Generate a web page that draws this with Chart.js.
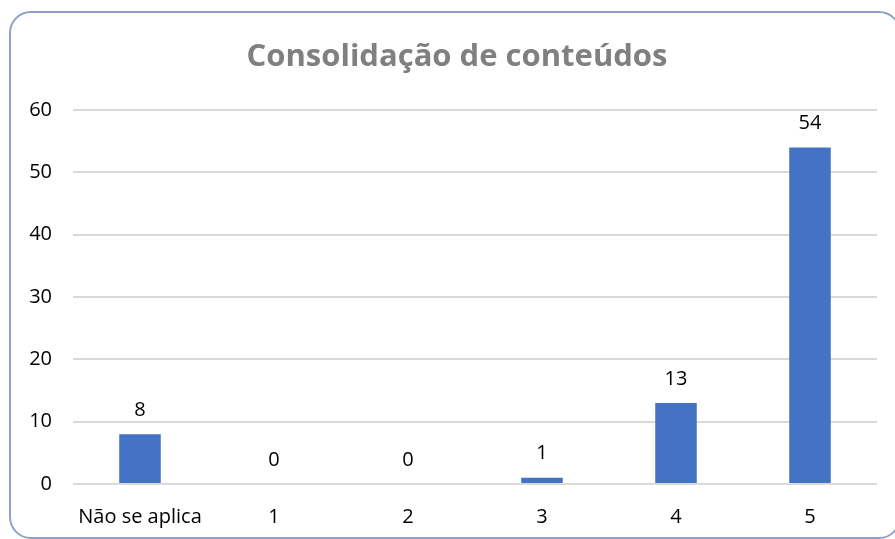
<!DOCTYPE html>
<html>
<head>
<meta charset="utf-8">
<script src="https://cdn.jsdelivr.net/npm/chart.js@4"></script>
<style>
  html, body { margin: 0; padding: 0; background: #fff; overflow: hidden; }
  #wrap { position: relative; width: 895px; height: 539px; }
  #frame {
    position: absolute; left: 9px; top: 11px; width: 892px; height: 528px;
    border: 2px solid #8EA3C2; border-radius: 22px; box-sizing: border-box;
  }
  #chart { position: absolute; left: 0; top: 0; }
</style>
</head>
<body>
<div id="wrap">
  <div id="frame"></div>
  <canvas id="chart" width="895" height="539"></canvas>
</div>
<script>
// data
const chartTitle = 'Consolidação de conteúdos';
const categories = ['Não se aplica', '1', '2', '3', '4', '5'];
const responses = [8, 0, 0, 1, 13, 54];
const yTicks = [0, 10, 20, 30, 40, 50, 60];

const FONT = '"Open Sans", "Liberation Sans", sans-serif';

// title centred on the frame rather than on the canvas
const frameTitle = {
    id: 'frameTitle',
    afterDraw(chart) {
        const ctx = chart.ctx;
        ctx.save();
        ctx.font = 'bold 31px ' + FONT;
        ctx.fillStyle = '#808080';
        ctx.textAlign = 'center';
        ctx.textBaseline = 'middle';
        ctx.fillText(chartTitle, 457, 57);
        ctx.restore();
    }
};

// draws the value above each bar (no datalabels plugin available offline)
const valueLabels = {
    id: 'valueLabels',
    afterDatasetsDraw(chart) {
        const ctx = chart.ctx;
        const meta = chart.getDatasetMeta(0);
        ctx.save();
        ctx.font = '20px ' + FONT;
        ctx.fillStyle = '#000';
        ctx.textAlign = 'center';
        ctx.textBaseline = 'middle';
        meta.data.forEach((bar, i) => {
            ctx.fillText(String(responses[i]), bar.x, bar.y - 24);
        });
        ctx.restore();
    }
};

const ctx = document.getElementById('chart').getContext('2d');
const chart = new Chart(ctx, {
    type: 'bar',
    data: {
        labels: categories,
        datasets: [{
            data: responses,
            backgroundColor: '#4472C4',
            borderWidth: 0,
            categoryPercentage: 1,
            barPercentage: 0.31
        }]
    },
    options: {
        responsive: false,
        animation: false,
        layout: { padding: { left: 0, right: 18, top: 110, bottom: 10 } },
        plugins: {
            legend: { display: false },
            tooltip: { enabled: false },
            title: { display: false }
        },
        scales: {
            x: {
                afterFit(axis) { axis.height = 45; },
                grid: { display: false, drawTicks: false },
                border: { display: false },
                ticks: { color: '#000', font: { family: FONT, size: 20 }, padding: 21 }
            },
            y: {
                min: 0,
                max: 60,
                afterBuildTicks(axis) { axis.ticks = yTicks.map(v => ({ value: v })); },
                afterFit(axis) { axis.width = 73; },
                grid: { color: '#D9D9D9', lineWidth: 2, drawTicks: false },
                border: { display: false },
                ticks: { color: '#000', font: { family: FONT, size: 20 }, padding: 21 }
            }
        }
    },
    plugins: [valueLabels, frameTitle]
});
</script>
</body>
</html>
